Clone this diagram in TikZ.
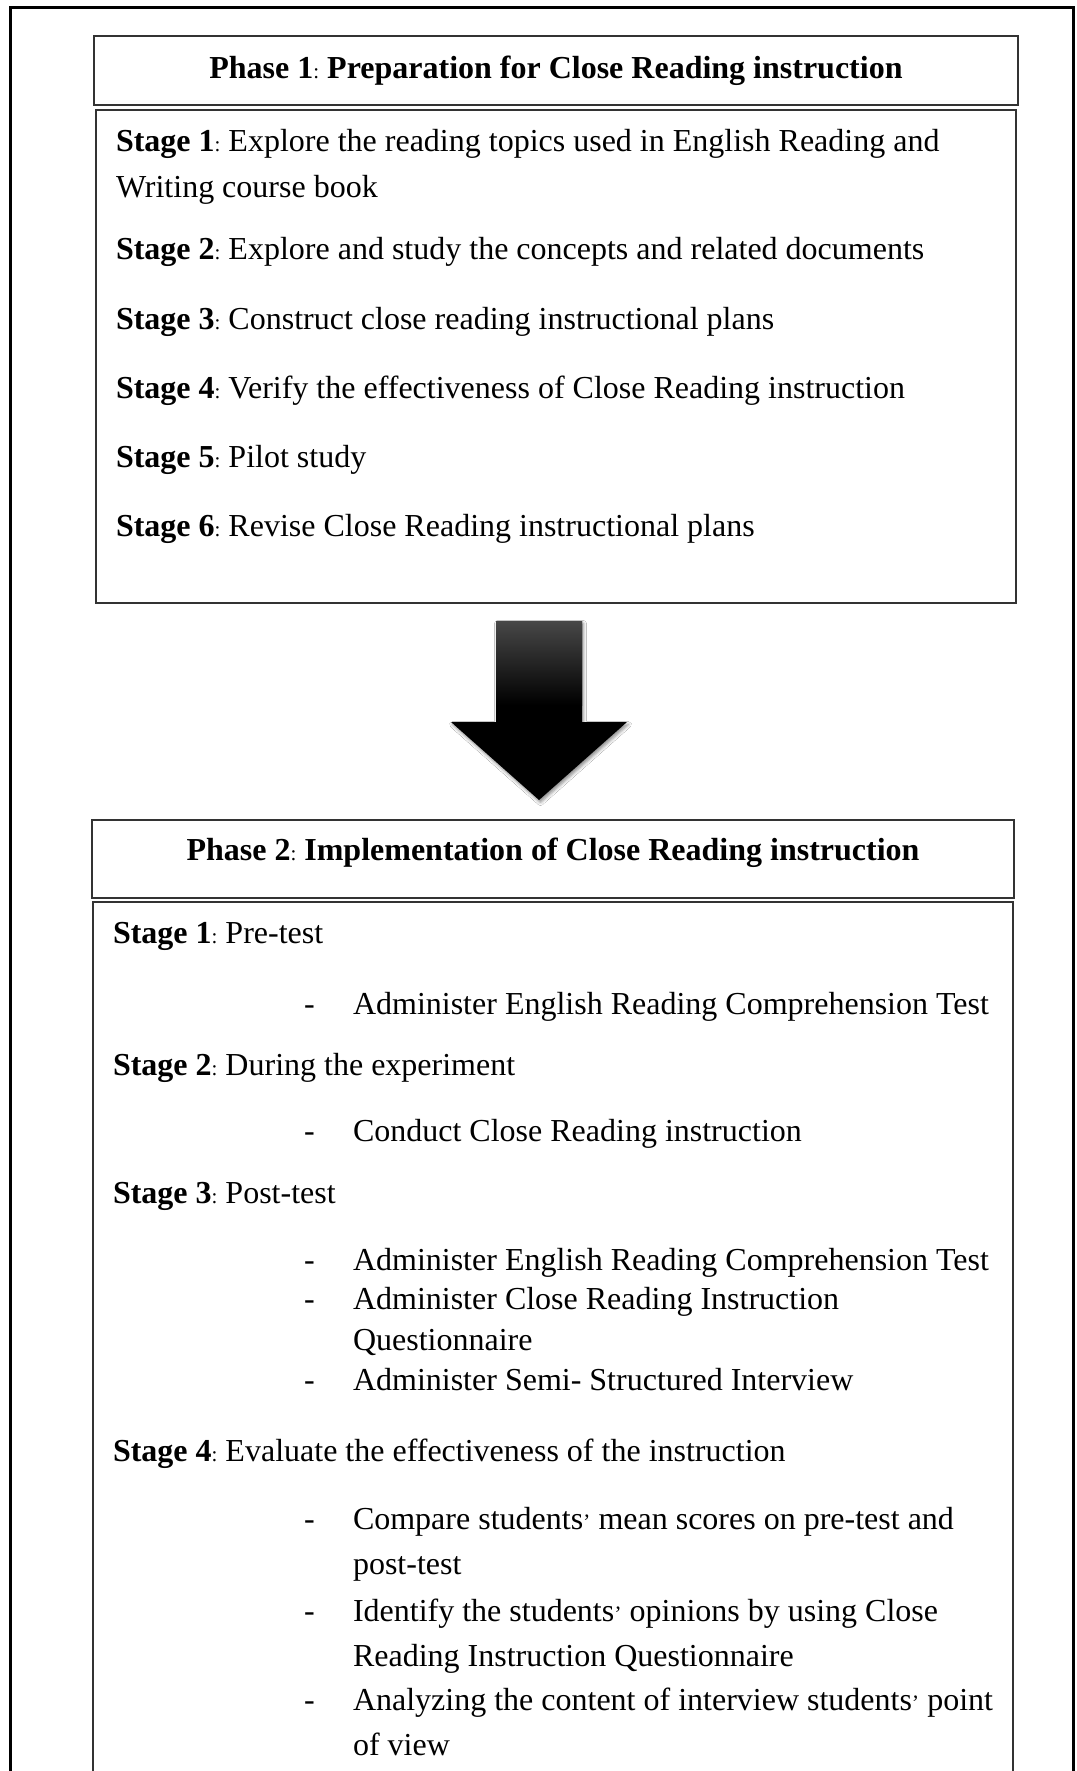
\documentclass[tikz,border=0pt]{standalone}
\usepackage{fontspec}
\setmainfont{Liberation Serif}
\usetikzlibrary{shadows.blur}
\newcommand{\cln}{{\mdseries\fontsize{21}{21}\selectfont:}\ }
\newcommand{\apos}{{\fontsize{22}{22}\selectfont’}}
\begin{document}
\begin{tikzpicture}[x=1pt,y=-1pt,
  every node/.style={inner sep=0pt, outer sep=0pt, font=\fontsize{32}{38}\selectfont},
  txt/.style={anchor=base west},
  hdr/.style={anchor=base, font=\fontsize{32}{38}\selectfont\bfseries},
  boxline/.style={draw=black!80, line width=1.6pt},
  frame/.style={draw=black, line width=3pt}]
\useasboundingbox (0,0) rectangle (1076,1771);
\fill[white] (0,0) rectangle (1076,1771);
% outer frame (bottom edge lies below the picture)
\coordinate (fbl) at (10,1780);
\coordinate (ftl) at (10,8);
\coordinate (ftr) at (1073,8);
\coordinate (fbr) at (1073,1780);
\draw[frame] (fbl) -- (ftl) -- (ftr) -- (fbr);

% ---------- Phase 1 ----------
\node[boxline, minimum width=924pt, minimum height=69pt, anchor=north west] (p1head) at (94,36) {};
\node[hdr] (p1title) at (556,79) {Phase 1\cln Preparation for Close Reading instruction};
\node[boxline, minimum width=920pt, minimum height=493pt, anchor=north west] (p1body) at (96,110) {};

\node[txt] (a1) at (116,152) {\textbf{Stage 1}\cln Explore the reading topics used in English Reading and};
\node[txt] (a1b) at (116,198) {Writing course book};
\node[txt] (a2) at (116,259) {\textbf{Stage 2}\cln Explore and study the concepts and related documents};
\node[txt] (a3) at (116,329) {\textbf{Stage 3}\cln Construct close reading instructional plans};
\node[txt] (a4) at (116,398) {\textbf{Stage 4}\cln Verify the effectiveness of Close Reading instruction};
\node[txt] (a5) at (116,467) {\textbf{Stage 5}\cln Pilot study};
\node[txt] (a6) at (116,536) {\textbf{Stage 6}\cln Revise Close Reading instructional plans};

% ---------- Block arrow ----------
\coordinate (arTop) at (539,621);
\coordinate (arTip) at (539,800);
\fill[black, blur shadow={shadow xshift=1.5pt, shadow yshift=-2.5pt, shadow blur radius=3pt, shadow opacity=45}]
  (496,621) -- (582,621) -- (582,722) -- (627,722) -- (arTip) -- (451,722) -- (496,722) -- cycle;
\shade[top color=black!72, bottom color=black] (496,621) rectangle (582,705);

% ---------- Phase 2 ----------
\node[boxline, minimum width=922pt, minimum height=78pt, anchor=north west] (p2head) at (92,820) {};
\node[hdr] (p2title) at (553,860) {Phase 2\cln Implementation of Close Reading instruction};
\coordinate (p2bl) at (93,1780);
\coordinate (p2tl) at (93,902);
\coordinate (p2tr) at (1013,902);
\coordinate (p2br) at (1013,1780);
\draw[boxline] (p2bl) -- (p2tl) -- (p2tr) -- (p2br);

\node[txt] (b1) at (113,943) {\textbf{Stage 1}\cln Pre-test};
\node[txt] (d1) at (304,1014) {-};
\node[txt] (i1) at (353,1014) {Administer English Reading Comprehension Test};
\node[txt] (b2) at (113,1075) {\textbf{Stage 2}\cln During the experiment};
\node[txt] (d2) at (304,1141) {-};
\node[txt] (i2) at (353,1141) {Conduct Close Reading instruction};
\node[txt] (b3) at (113,1203) {\textbf{Stage 3}\cln Post-test};
\node[txt] (d3) at (304,1270) {-};
\node[txt] (i3) at (353,1270) {Administer English Reading Comprehension Test};
\node[txt] (d4) at (304,1309) {-};
\node[txt] (i4) at (353,1309) {Administer Close Reading Instruction};
\node[txt] (i4b) at (353,1350) {Questionnaire};
\node[txt] (d5) at (304,1390) {-};
\node[txt] (i5) at (353,1390) {Administer Semi- Structured Interview};
\node[txt] (b4) at (113,1461) {\textbf{Stage 4}\cln Evaluate the effectiveness of the instruction};
\node[txt] (d6) at (304,1529) {-};
\node[txt] (i6) at (353,1529) {Compare students\apos\ mean scores on pre-test and};
\node[txt] (i6b) at (353,1574) {post-test};
\node[txt] (d7) at (304,1621) {-};
\node[txt] (i7) at (353,1621) {Identify the students\apos\ opinions by using Close};
\node[txt] (i7b) at (353,1666) {Reading Instruction Questionnaire};
\node[txt] (d8) at (304,1710) {-};
\node[txt] (i8) at (353,1710) {Analyzing the content of interview students\apos\ point};
\node[txt] (i8b) at (353,1755) {of view};
\end{tikzpicture}
\end{document}
